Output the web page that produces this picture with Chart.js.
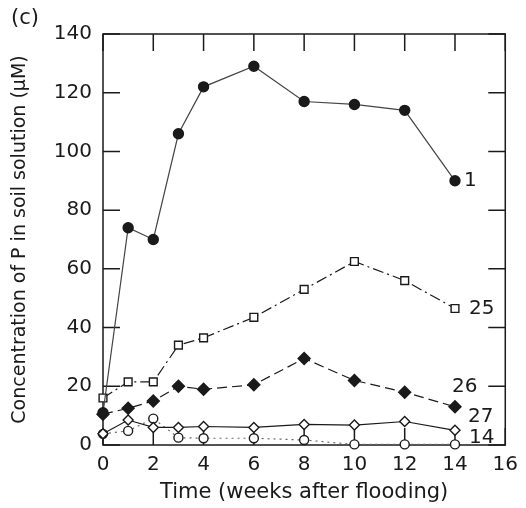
<!DOCTYPE html>
<html>
<head>
<meta charset="utf-8">
<script src="https://cdn.jsdelivr.net/npm/chart.js@4.4.1/dist/chart.umd.min.js"></script>
<style>
  body { margin: 0; background: #fff; }
  canvas { display: block; }
</style>
</head>
<body>
<canvas id="displayGraph" width="526" height="508"></canvas>
<script>
//******************************************************************** Data *****************************************************************

const WEEKS = [0, 1, 2, 3, 4, 6, 8, 10, 12, 14] // weeks after flooding
const SOIL1 = [11, 74, 70, 106, 122, 129, 117, 116, 114, 90]
const SOIL25 = [16, 21.5, 21.5, 34, 36.5, 43.5, 53, 62.5, 56, 46.5]
const SOIL26 = [10.5, 12.5, 15, 20, 19, 20.5, 29.5, 22, 18, 13]
const SOIL27 = [3.8, 8.5, 6, 6, 6.3, 6, 7, 6.8, 8, 5]
const SOIL14 = [3.8, 4.8, 9, 2.5, 2.3, 2.3, 1.7, 0.2, 0.2, 0.2]
const SOIL_NAMES = ['1', '25', '26', '27', '14']
const X_TICKS = [0, 2, 4, 6, 8, 10, 12, 14, 16]
const Y_TICKS = [0, 20, 40, 60, 80, 100, 120, 140]

const FONT = 'DejaVu Sans'
const INK = '#1a1a1a'

// turns a values array into {x, y} points
function toPoints(values) {
  return values.map((v, i) => ({ x: WEEKS[i], y: v }))
}

//******************************************************************** Plugin *****************************************************************

// box around the plot + ticks pointing inward + the soil numbers at the end of the lines
const frameTicks = {
  id: 'frameTicks',
  beforeDatasetsDraw(chart) {
    const ctx = chart.ctx
    const area = chart.chartArea
    const xs = chart.scales.x
    const ys = chart.scales.y
    const len = 17

    ctx.save()
    ctx.strokeStyle = INK
    ctx.lineWidth = 1.5
    ctx.strokeRect(area.left, area.top, area.right - area.left, area.bottom - area.top)

    ctx.beginPath()
    for (let t of X_TICKS) {
      const px = xs.getPixelForValue(t)
      ctx.moveTo(px, area.bottom)
      ctx.lineTo(px, area.bottom - len)
      ctx.moveTo(px, area.top)
      ctx.lineTo(px, area.top + len)
    }
    for (let t of Y_TICKS) {
      const py = ys.getPixelForValue(t)
      ctx.moveTo(area.left, py)
      ctx.lineTo(area.left + len, py)
      ctx.moveTo(area.right, py)
      ctx.lineTo(area.right - len, py)
    }
    ctx.stroke()
    ctx.restore()
  },
  afterDraw(chart) {
    const ctx = chart.ctx
    const xs = chart.scales.x
    const ys = chart.scales.y

    ctx.save()
    ctx.fillStyle = INK
    ctx.textBaseline = 'middle'
    ctx.textAlign = 'left'
    ctx.font = `21px "${FONT}"`
    ctx.fillText('(c)', 11, 19)

    // where each soil number sits (data coords) + small pixel shift
    const spots = [[14, 90, 9, 0], [14, 46.5, 14, 0], [14, 20, -3, 1], [14, 9.5, 13, 0], [14, 2.4, 14, 0]]
    ctx.font = `20px "${FONT}"`
    spots.forEach((s, i) => {
      ctx.fillText(SOIL_NAMES[i], xs.getPixelForValue(s[0]) + s[2], ys.getPixelForValue(s[1]) + s[3])
    })
    ctx.restore()
  }
}

//******************************************************************** Chart *****************************************************************

document.addEventListener('DOMContentLoaded', function () {
  const common = { borderColor: INK, pointBorderColor: INK, borderWidth: 1.2, pointBorderWidth: 1.4, clip: false, tension: 0 }

  const DATAGRAPH = {
    datasets: [
      { ...common, label: SOIL_NAMES[0], data: toPoints(SOIL1), borderColor: '#444', pointStyle: 'circle', pointRadius: 5, pointBackgroundColor: INK },
      { ...common, label: SOIL_NAMES[1], data: toPoints(SOIL25), borderDash: [11, 4, 2, 4], pointStyle: 'rect', pointRadius: 5.5, pointBackgroundColor: '#fff' },
      { ...common, label: SOIL_NAMES[2], data: toPoints(SOIL26), borderDash: [10, 5], pointStyle: 'rectRot', pointRadius: 6, pointBackgroundColor: INK },
      { ...common, label: SOIL_NAMES[3], data: toPoints(SOIL27), pointStyle: 'rectRot', pointRadius: 5, pointBackgroundColor: '#fff' },
      { ...common, label: SOIL_NAMES[4], data: toPoints(SOIL14), borderColor: '#666', borderDash: [2, 4], pointStyle: 'circle', pointRadius: 4.5, pointBackgroundColor: '#fff' }
    ]
  }

  const config = {
    type: 'line',
    data: DATAGRAPH,
    options: {
      responsive: false,
      animation: false,
      devicePixelRatio: 1,
      layout: { padding: { top: 34, right: 16, left: 0, bottom: 0 } },
      plugins: {
        legend: { display: false },
        tooltip: { enabled: false }
      },
      scales: {
        x: {
          type: 'linear',
          min: 0,
          max: 16,
          afterFit: (scale) => { scale.height = 63 },
          ticks: { stepSize: 2, autoSkip: false, padding: 8, color: INK, font: { family: FONT, size: 20 } },
          grid: { display: false, drawTicks: false },
          border: { display: false },
          title: { display: true, text: 'Time (weeks after flooding)', color: INK, font: { family: FONT, size: 21 }, padding: { top: 0, bottom: 3 } }
        },
        y: {
          type: 'linear',
          min: 0,
          max: 140,
          afterFit: (scale) => { scale.width = 103 },
          ticks: { stepSize: 20, padding: 11, color: INK, font: { family: FONT, size: 20 } },
          grid: { display: false, drawTicks: false },
          border: { display: false },
          title: { display: true, text: 'Concentration of P in soil solution (μM)', color: INK, font: { family: FONT, size: 19 }, padding: { top: 9, bottom: 0 } }
        }
      }
    },
    plugins: [frameTicks]
  }

  const DISPLAYGRAPH = document.getElementById('displayGraph')
  new Chart(DISPLAYGRAPH, config)
})
</script>
</body>
</html>
